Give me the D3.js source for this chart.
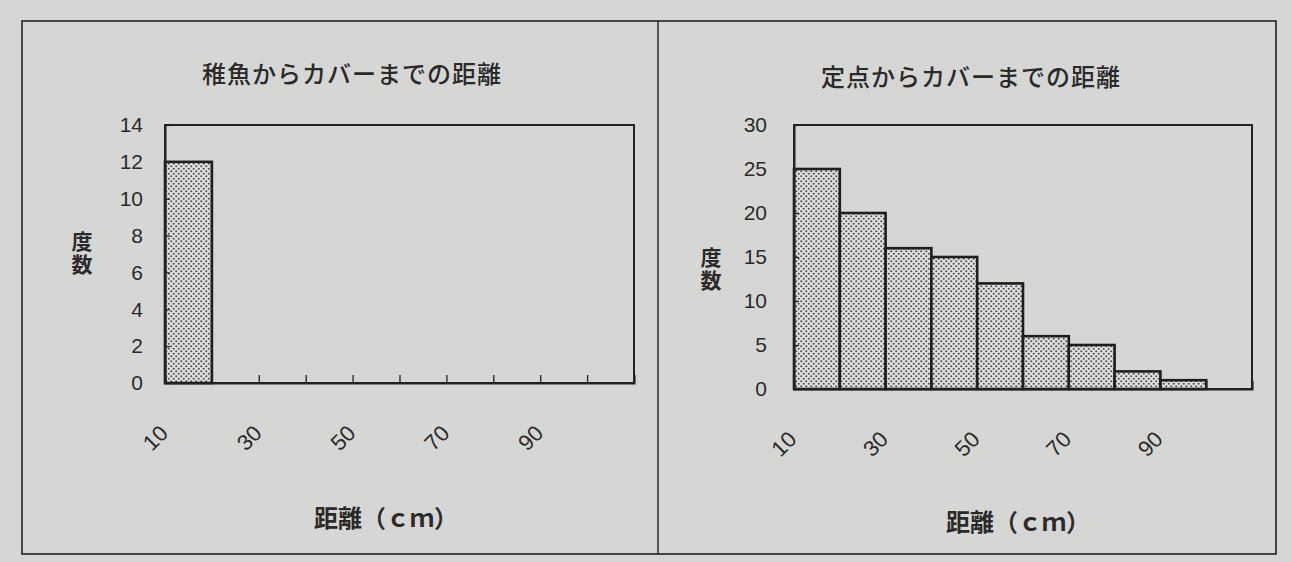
<!DOCTYPE html>
<html><head><meta charset="utf-8">
<script src="https://cdn.jsdelivr.net/npm/d3@7"></script>
<style>
html,body{margin:0;padding:0;background:#d6d7d4;}
svg{display:block;}
text{fill:#2a2a2a;}
</style></head>
<body><svg id="c" width="1291" height="562"></svg>
<script>
const categories = [10,20,30,40,50,60,70,80,90,100];
const xTickLabels = [10,30,50,70,90];
const fishValues = [12,0,0,0,0,0,0,0,0,0];
const pointValues = [25,20,16,15,12,6,5,2,1,0];
const leftTicks = [0,2,4,6,8,10,12,14];
const rightTicks = [0,5,10,15,20,25,30];
const titles = ["稚魚からカバーまでの距離","定点からカバーまでの距離"];
const xTitle = "距離（ｃｍ）";
const yTitle = "度数";

const svg = d3.select("#c");
svg.append("rect").attr("width",1291).attr("height",562).attr("fill","#d6d7d4");
const defs = svg.append("defs");
const pat = defs.append("pattern").attr("id","dots").attr("patternUnits","userSpaceOnUse")
  .attr("width",5).attr("height",5);
pat.append("rect").attr("width",5).attr("height",5).attr("fill","#e0e0e0");
pat.append("circle").attr("cx",1.25).attr("cy",1.25).attr("r",1.1).attr("fill","#555");
pat.append("circle").attr("cx",3.75).attr("cy",3.75).attr("r",1.1).attr("fill","#555");

svg.append("rect").attr("x",22).attr("y",21).attr("width",1254).attr("height",533)
  .attr("fill","none").attr("stroke","#222").attr("stroke-width",1.6);
svg.append("line").attr("x1",658).attr("x2",658).attr("y1",21).attr("y2",554)
  .attr("stroke","#222").attr("stroke-width",1.4);

const numFont = "'Liberation Sans', Arial, sans-serif";
const jpFont = "'Noto Sans CJK JP', sans-serif";

function chart(cfg){
  const {x0,x1,yTop,yBot,max,ticks,values,title,titleX,titleY,xTitleX,xTitleY,yTitleX,yTitleY,pad} = cfg;
  const x = d3.scaleBand().domain(categories).range([x0,x1]).padding(0);
  const xi = d3.scaleLinear().domain([0,categories.length]).range([x0,x1]);
  const y = d3.scaleLinear().domain([0,max]).range([yBot,yTop]);
  const g = svg.append("g");
  g.append("rect").attr("x",x0).attr("y",yTop).attr("width",x1-x0).attr("height",yBot-yTop)
    .attr("fill","none").attr("stroke","#222").attr("stroke-width",2);
  g.selectAll("rect.bar").data(values.map((v,i)=>({c:categories[i],v})).filter(d=>d.v>0))
    .enter().append("rect").attr("class","bar")
    .attr("x",d=>x(d.c)).attr("width",x.bandwidth())
    .attr("y",d=>y(d.v)).attr("height",d=>yBot-y(d.v))
    .attr("fill","url(#dots)").attr("stroke","#1e1e1e").attr("stroke-width",2.6);
  const ya = d3.axisLeft(y).tickValues(ticks).tickSizeInner(-5).tickSizeOuter(0).tickPadding(pad);
  const yg = g.append("g").attr("transform",`translate(${x0},0)`).call(ya);
  yg.attr("font-size",21).attr("font-family",numFont);
  yg.select(".domain").attr("stroke","#222").attr("stroke-width",2);
  yg.selectAll(".tick line").attr("stroke","#222").attr("stroke-width",1.3);
  yg.selectAll(".tick text").attr("fill","#2a2a2a");
  const xa = d3.axisBottom(xi).tickValues(d3.range(0,categories.length+1)).tickSize(-8).tickFormat("");
  const xg = g.append("g").attr("transform",`translate(0,${yBot})`).call(xa);
  xg.select(".domain").attr("stroke","#222").attr("stroke-width",2);
  xg.selectAll(".tick line").attr("stroke","#222").attr("stroke-width",1.3);
  g.selectAll("text.xl").data(xTickLabels).enter().append("text").attr("class","xl")
    .attr("transform",d=>`translate(${x(d)+x.bandwidth()/2-33},${yBot+55}) rotate(-45)`)
    .attr("text-anchor","middle").attr("dominant-baseline","central")
    .attr("font-family",numFont).attr("font-size",22).text(d=>d);
  g.append("text").attr("x",titleX).attr("y",titleY).attr("text-anchor","middle")
    .attr("font-family",jpFont).attr("font-size",24).attr("font-weight",500)
    .attr("letter-spacing",1).text(title);
  g.append("text").attr("x",xTitleX).attr("y",xTitleY).attr("text-anchor","middle")
    .attr("font-family",jpFont).attr("font-size",24).attr("font-weight",700).text(xTitle);
  g.append("text").attr("x",yTitleX).attr("y",yTitleY)
    .style("writing-mode","vertical-rl").attr("text-anchor","middle")
    .attr("font-family",jpFont).attr("font-size",21).attr("font-weight",700)
    .attr("letter-spacing",2).text(yTitle);
}

chart({x0:165,x1:634,yTop:125,yBot:383,max:14,ticks:leftTicks,values:fishValues,pad:22,
  title:titles[0],titleX:352,titleY:83,xTitleX:386,xTitleY:527,yTitleX:82,yTitleY:254});
chart({x0:794,x1:1252,yTop:125,yBot:389,max:30,ticks:rightTicks,values:pointValues,pad:27,
  title:titles[1],titleX:971,titleY:86,xTitleX:1018,xTitleY:531,yTitleX:711,yTitleY:270});
</script></body></html>
